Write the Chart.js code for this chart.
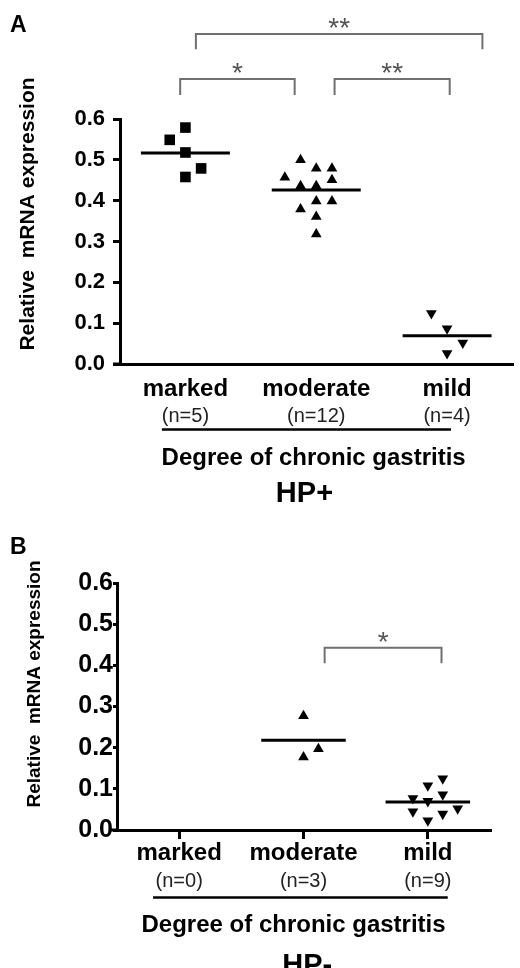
<!DOCTYPE html>
<html>
<head>
<meta charset="utf-8">
<script src="https://cdn.jsdelivr.net/npm/chart.js@4.4.1/dist/chart.umd.min.js"></script>
<style>
html, body { margin: 0; padding: 0; background: #fff; }
#wrap { position: relative; width: 520px; height: 968px; overflow: hidden; }
#chartA { position: absolute; left: 0; top: 0; }
#chartB { position: absolute; left: 0; top: 515px; }
</style>
</head>
<body>
<div id="wrap">
  <canvas id="chartA" width="520" height="515"></canvas>
  <canvas id="chartB" width="520" height="453"></canvas>
</div>
<script>
/***** Data *****/
const CATEGORIES = ["marked", "moderate", "mild"];
const Y_TICKS = [0, 0.1, 0.2, 0.3, 0.4, 0.5, 0.6];

// HP+ (panel A)
const HPPOS_COUNTS = ["(n=5)", "(n=12)", "(n=4)"];
const HPPOS_MARKED = [0.579, 0.549, 0.518, 0.479, 0.458];
const HPPOS_MARKED_COL = [0, -1, 0, 1, 0];
const HPPOS_MODERATE = [0.500, 0.479, 0.479, 0.457, 0.451, 0.436, 0.436, 0.399, 0.399, 0.379, 0.361, 0.318];
const HPPOS_MODERATE_COL = [-1, 0, 1, -2, 1, -1, 0, 0, 1, -1, 0, 0];
const HPPOS_MILD = [0.124, 0.087, 0.052, 0.026];
const HPPOS_MILD_COL = [-1, 0, 1, 0];
const HPPOS_MEANS = [0.517, 0.426, 0.069];
const HPPOS_BRACKETS = [
    {from: 0.08, to: 2.27, y: 0.808, leg: 0.771, label: "**"},
    {from: -0.04, to: 0.835, y: 0.698, leg: 0.659, label: "*"},
    {from: 1.14, to: 2.02, y: 0.698, leg: 0.659, label: "**"}
];

// HP- (panel B)
const HPNEG_COUNTS = ["(n=0)", "(n=3)", "(n=9)"];
const HPNEG_MARKED = [];
const HPNEG_MARKED_COL = [];
const HPNEG_MODERATE = [0.277, 0.197, 0.177];
const HPNEG_MODERATE_COL = [0, 1, 0];
const HPNEG_MILD = [0.125, 0.108, 0.086, 0.077, 0.070, 0.045, 0.039, 0.052, 0.023];
const HPNEG_MILD_COL = [1, 0, 1, -1, 0, -1, 1, 2, 0];
const HPNEG_MEANS = [null, 0.218, 0.068];
const HPNEG_BRACKETS = [
    {from: 1.17, to: 2.11, y: 0.4425, leg: 0.405, label: "*"}
];

/***** Styles *****/
const FONT = '"Liberation Sans", Arial, Helvetica, sans-serif';
const JITTER = 0.12;      // column spacing of the scatter, in category units
const MEAN_HALF = 0.34;   // half length of the mean bar
const MARKERS = [
    {style: 'rect', rot: 0, r: 7.5},
    {style: 'triangle', rot: 0, r: 6.2},
    {style: 'triangle', rot: 180, r: 6.2}
];

Chart.defaults.font.family = FONT;

//Draw letters, axis title, category labels, brackets
const panelDecor = {
    id: 'panelDecor',
    afterDraw(chart, args, o) {
        const ctx = chart.ctx;
        const xs = chart.scales.x, ys = chart.scales.y;
        const area = chart.chartArea;
        const bottom = area.bottom;
        ctx.save();
        ctx.fillStyle = '#000';
        ctx.textBaseline = 'alphabetic';

        //x axis line runs a bit past the y axis
        ctx.strokeStyle = '#000';
        ctx.lineWidth = 3;
        ctx.beginPath();
        ctx.moveTo(area.left - o.axisLead, bottom);
        ctx.lineTo(area.left, bottom);
        ctx.stroke();

        ctx.font = 'bold 23px ' + FONT;
        ctx.textAlign = 'left';
        ctx.fillText(o.letter, 10, o.letterY);

        ctx.save();
        ctx.translate(o.yTitleX, o.yTitleY);
        ctx.rotate(-Math.PI / 2);
        ctx.textAlign = 'center';
        ctx.textBaseline = 'middle';
        ctx.font = 'bold ' + o.yTitleSize + 'px ' + FONT;
        ctx.fillText("Relative  mRNA expression", 0, 0);
        ctx.restore();

        ctx.textAlign = 'center';
        CATEGORIES.forEach((c, i) => {
            let px = xs.getPixelForValue(i);
            ctx.font = 'bold 24px ' + FONT;
            ctx.fillText(c, px, bottom + o.catY);
            ctx.font = '20px ' + FONT;
            ctx.fillStyle = '#222';
            ctx.fillText(o.counts[i], px, bottom + o.countY);
            ctx.fillStyle = '#000';
        });

        ctx.lineWidth = 2.5;
        ctx.beginPath();
        ctx.moveTo(xs.getPixelForValue(o.underline[0]), bottom + o.underlineY);
        ctx.lineTo(xs.getPixelForValue(o.underline[1]), bottom + o.underlineY);
        ctx.stroke();

        ctx.font = 'bold 24px ' + FONT;
        ctx.fillText("Degree of chronic gastritis", xs.getPixelForValue(o.xTitleAt), bottom + o.xTitleY);
        ctx.font = 'bold 29px ' + FONT;
        ctx.fillText(o.group, xs.getPixelForValue(o.groupAt), bottom + o.groupY);

        //Significance brackets
        ctx.strokeStyle = '#707070';
        ctx.lineWidth = 2;
        ctx.fillStyle = '#555';
        ctx.font = '28px ' + FONT;
        o.brackets.forEach(b => {
            let x1 = xs.getPixelForValue(b.from), x2 = xs.getPixelForValue(b.to);
            let yt = ys.getPixelForValue(b.y), yl = ys.getPixelForValue(b.leg);
            ctx.beginPath();
            ctx.moveTo(x1, yl);
            ctx.lineTo(x1, yt);
            ctx.lineTo(x2, yt);
            ctx.lineTo(x2, yl);
            ctx.stroke();
            ctx.fillText(b.label, (x1 + x2) / 2, yt - 13 + 0.57 * 28);
        });
        ctx.restore();
    }
};

function buildPanel(canvasId, p) {
    let datasets = [];
    p.groups.forEach((g, i) => {
        if (g.values.length == 0) return;
        datasets.push({
            data: g.values.map((v, k) => ({x: i + g.cols[k] * JITTER, y: v})),
            pointStyle: MARKERS[i].style,
            pointRotation: MARKERS[i].rot,
            pointRadius: MARKERS[i].r,
            backgroundColor: '#000',
            borderColor: '#000',
            borderWidth: 0,
            clip: false
        });
    });
    p.means.forEach((m, i) => {
        if (m === null) return;
        datasets.push({
            data: [{x: i - MEAN_HALF, y: m}, {x: i + MEAN_HALF, y: m}],
            showLine: true,
            pointRadius: 0,
            borderColor: '#000',
            borderWidth: 3,
            clip: false
        });
    });

    return new Chart(document.getElementById(canvasId), {
        type: 'scatter',
        data: {datasets: datasets},
        plugins: [panelDecor],
        options: {
            responsive: false,
            animation: false,
            events: [],
            layout: {padding: {left: 0, top: p.top, right: p.right, bottom: 0}},
            plugins: {
                legend: {display: false},
                tooltip: {enabled: false},
                panelDecor: p.decor
            },
            scales: {
                x: {
                    type: 'linear', min: -0.5, max: 2.5,
                    afterBuildTicks: s => { s.ticks = CATEGORIES.map((c, i) => ({value: i})); },
                    ticks: {display: false},
                    grid: {display: p.xTicks, drawOnChartArea: false, color: '#000', lineWidth: 3, tickLength: 9},
                    border: {color: '#000', width: 3},
                    afterFit: s => { s.height = p.xHeight; }
                },
                y: {
                    type: 'linear', min: 0, max: 0.6,
                    afterBuildTicks: s => { s.ticks = Y_TICKS.map(v => ({value: v})); },
                    ticks: {
                        callback: v => v.toFixed(1),
                        color: '#000',
                        padding: p.yTickPad,
                        font: {size: p.yTickSize, weight: 'bold'}
                    },
                    grid: {drawOnChartArea: false, color: '#000', lineWidth: 3, tickLength: p.yTickLen},
                    border: {color: '#000', width: 3},
                    afterFit: s => { s.width = p.left; }
                }
            }
        }
    });
}

buildPanel('chartA', {
    groups: [
        {values: HPPOS_MARKED, cols: HPPOS_MARKED_COL},
        {values: HPPOS_MODERATE, cols: HPPOS_MODERATE_COL},
        {values: HPPOS_MILD, cols: HPPOS_MILD_COL}
    ],
    means: HPPOS_MEANS,
    top: 119, left: 120, right: 0, xHeight: 151,
    xTicks: false, yTickSize: 22, yTickPad: 8, yTickLen: 7,
    decor: {
        letter: "A", letterY: 32, axisLead: 7,
        yTitleX: 28, yTitleY: 214, yTitleSize: 21,
        counts: HPPOS_COUNTS,
        catY: 32, countY: 58, underline: [-0.18, 2.03], underlineY: 65.5,
        xTitleAt: 0.98, xTitleY: 101,
        group: "HP+", groupAt: 0.91, groupY: 138,
        brackets: HPPOS_BRACKETS
    }
});

buildPanel('chartB', {
    groups: [
        {values: HPNEG_MARKED, cols: HPNEG_MARKED_COL},
        {values: HPNEG_MODERATE, cols: HPNEG_MODERATE_COL},
        {values: HPNEG_MILD, cols: HPNEG_MILD_COL}
    ],
    means: HPNEG_MEANS,
    top: 68, left: 117, right: 30, xHeight: 138,
    xTicks: true, yTickSize: 25, yTickPad: 0, yTickLen: 4,
    decor: {
        letter: "B", letterY: 39, axisLead: 8,
        yTitleX: 35, yTitleY: 169, yTitleSize: 19,
        counts: HPNEG_COUNTS,
        catY: 29.5, countY: 56.5, underline: [-0.21, 2.16], underlineY: 67.5,
        xTitleAt: 0.92, xTitleY: 102,
        group: "HP-", groupAt: 1.03, groupY: 143.5,
        brackets: HPNEG_BRACKETS
    }
});
</script>
</body>
</html>
